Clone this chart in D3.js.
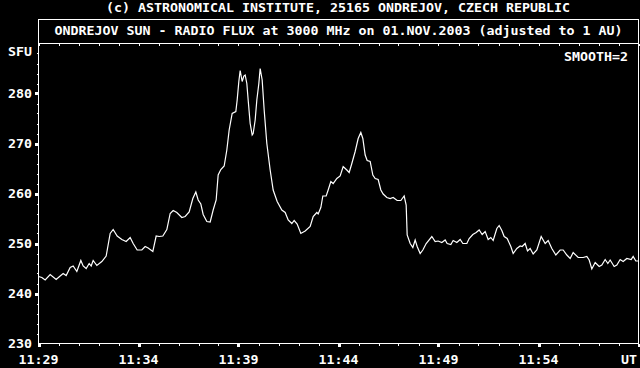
<!DOCTYPE html>
<html>
<head>
<meta charset="utf-8">
<script src="https://cdn.jsdelivr.net/npm/d3@7"></script>
<style>
  html, body { margin: 0; padding: 0; background: #000; }
  svg { display: block; }
  text { font-family: "DejaVu Sans Mono", monospace; font-weight: bold; font-size: 12px; fill: #fff; }
</style>
</head>
<body>
<div id="grafico"></div>
<script>
// seconds after 11:29:00 UT
const segundos = [0, 10, 20, 35, 53, 65, 74, 83, 95, 104, 115, 127, 134, 143, 152, 158, 164, 175, 190, 203,
  215, 224, 236, 250, 263, 275, 284, 296, 310, 320, 329, 343, 353, 362, 373, 385, 395, 404, 415, 430,
  440, 452, 463, 472, 479, 487, 494, 505, 515, 524, 533, 539, 547, 557, 565, 572, 581, 592, 596, 601,
  605, 611, 616, 620, 625, 629, 635, 641, 644, 650, 655, 661, 665, 671, 677, 685, 695, 704, 716, 730,
  740, 749, 760, 767, 776, 787, 800, 815, 824, 835, 839, 847, 853, 863, 869, 877, 884, 895, 905, 914,
  925, 932, 940, 950, 959, 967, 973, 980, 986, 995, 1003, 1010, 1019, 1027, 1034, 1045, 1055, 1064, 1076, 1087,
  1097, 1103, 1106, 1115, 1123, 1130, 1136, 1145, 1153, 1163, 1180, 1190, 1199, 1210, 1220, 1226, 1237, 1244, 1255, 1265,
  1273, 1285, 1292, 1303, 1313, 1322, 1331, 1340, 1349, 1357, 1364, 1375, 1382, 1390, 1397, 1406, 1417, 1424, 1435, 1445,
  1451, 1460, 1467, 1475, 1484, 1495, 1508, 1520, 1529, 1540, 1552, 1565, 1574, 1585, 1595, 1604, 1619, 1634, 1645, 1652,
  1660, 1670, 1682, 1690, 1700, 1708, 1715, 1727, 1735, 1745, 1754, 1765, 1778, 1784, 1792, 1800];

const fluxo = [243.4, 243.2, 242.7, 243.8, 242.8, 243.5, 244.0, 243.6, 245.2, 245.5, 244.4, 246.6, 245.5, 245.0, 246.0, 245.5, 246.6, 245.6, 246.4, 247.5,
  252.0, 252.8, 251.5, 250.8, 250.4, 251.2, 250.0, 248.7, 248.7, 249.4, 249.1, 248.4, 251.5, 251.4, 251.5, 252.8, 256.0, 256.6, 256.2, 255.2,
  255.4, 256.3, 259.0, 260.3, 258.7, 257.9, 255.8, 254.4, 254.3, 256.7, 258.7, 263.7, 264.8, 265.5, 268.7, 272.7, 276.0, 276.4, 278.7, 282.4,
  284.6, 282.4, 283.5, 283.7, 282.0, 278.7, 274.0, 271.7, 272.0, 274.7, 278.7, 282.0, 285.0, 282.7, 276.7, 270.0, 264.7, 260.7, 258.4, 256.7,
  256.2, 254.7, 254.0, 254.6, 253.9, 252.0, 252.5, 253.4, 255.4, 256.2, 255.9, 257.2, 259.5, 259.5, 260.7, 262.4, 262.0, 263.0, 263.5, 265.4,
  264.7, 264.2, 266.0, 268.4, 271.0, 272.2, 271.0, 267.7, 266.6, 266.4, 263.7, 263.0, 262.8, 260.7, 259.9, 259.2, 259.0, 259.2, 258.6, 258.6,
  259.5, 257.7, 251.7, 250.0, 249.2, 250.7, 249.4, 248.0, 248.7, 250.0, 251.4, 250.4, 250.5, 250.2, 250.7, 250.0, 249.8, 250.6, 250.2, 250.8,
  250.0, 250.0, 251.0, 251.8, 252.2, 252.7, 251.8, 252.4, 250.8, 251.2, 250.6, 253.0, 253.6, 252.6, 251.4, 251.0, 249.4, 248.0, 249.0, 249.5,
  249.4, 250.0, 248.5, 249.0, 247.9, 248.7, 251.4, 250.0, 250.6, 249.0, 247.7, 248.7, 248.7, 247.7, 247.0, 248.2, 247.2, 247.2, 247.4, 246.7,
  244.9, 246.2, 245.4, 245.7, 246.8, 246.0, 246.7, 245.4, 245.7, 246.8, 246.4, 247.0, 246.8, 247.4, 246.5, 246.5];

const rotulosY = [230, 240, 250, 260, 270, 280];
const rotulosX = ["11:29", "11:34", "11:39", "11:44", "11:49", "11:54", "UT"];
const titulo1 = "(c) ASTRONOMICAL INSTITUTE, 25165 ONDREJOV, CZECH REPUBLIC";
const titulo2 = "ONDREJOV SUN - RADIO FLUX at 3000 MHz on 01.NOV.2003 (adjusted to 1 AU)";
const CH = 8; // largura de um caractere

var largura = 640, altura = 368;
var svg = d3.select("#grafico").append("svg")
    .attr("width", largura)
    .attr("height", altura)
    .style("background", "#000");

var x = d3.scaleLinear().domain([0, 1800]).range([38.5, 638.5]);
var y = d3.scaleLinear().domain([230, 290]).range([343.5, 43.5]);

function texto(str, x0, yc) {
    return svg.append("text")
        .attr("x", x0)
        .attr("y", yc)
        .attr("dy", "0.36em")
        .attr("textLength", str.length * CH)
        .attr("lengthAdjust", "spacingAndGlyphs")
        .text(str);
}

// moldura
var eixos = svg.append("g").attr("shape-rendering", "crispEdges").attr("stroke", "#fff").attr("fill", "none");
eixos.append("rect").attr("x", 38.5).attr("y", 19.5).attr("width", 600).attr("height", 324);
eixos.append("line").attr("x1", 38.5).attr("x2", 638.5).attr("y1", 43.5).attr("y2", 43.5);

// marcas de minuto (topo e base)
var minutos = d3.range(0, 1801, 60);
eixos.selectAll(".mtopo").data(minutos).enter().append("line")
    .attr("x1", d => Math.round(x(d)) + 0.5).attr("x2", d => Math.round(x(d)) + 0.5)
    .attr("y1", 44).attr("y2", 46);
eixos.selectAll(".mbase").data(minutos.filter(d => d % 300 != 0)).enter().append("line")
    .attr("x1", d => Math.round(x(d)) + 0.5).attr("x2", d => Math.round(x(d)) + 0.5)
    .attr("y1", 344).attr("y2", 346);
svg.selectAll(".mbaseG").data(d3.range(0, 1801, 300)).enter().append("rect")
    .attr("x", d => Math.round(x(d)) - 1).attr("y", 344)
    .attr("width", 3).attr("height", 3).attr("fill", "#fff");

// marcas do eixo y
eixos.selectAll(".ymin").data(d3.range(232, 290, 2).filter(d => d % 10 != 0)).enter().append("line")
    .attr("x1", 37).attr("x2", 38.5)
    .attr("y1", d => Math.round(y(d)) + 0.5).attr("y2", d => Math.round(y(d)) + 0.5);
svg.selectAll(".ymaj").data(rotulosY.slice(1)).enter().append("rect")
    .attr("x", 35).attr("y", d => Math.round(y(d)) - 1)
    .attr("width", 3).attr("height", 3).attr("fill", "#fff");

// rótulos
rotulosY.forEach(v => texto(String(v), 32 - String(v).length * CH, y(v)));
texto("SFU", 8, 52);
rotulosX.forEach((r, i) => {
    var px = x(i * 300);
    if (r == "UT") texto(r, 637 - r.length * CH, 360);
    else texto(r, px - r.length * CH / 2, 360);
});
texto(titulo1, 338 - titulo1.length * CH / 2, 8);
texto(titulo2, 338.5 - titulo2.length * CH / 2, 31);
texto("SMOOTH=2", 628 - 8 * CH, 57);

// curva
var linha = d3.line()
    .x((d, i) => x(segundos[i]))
    .y(d => y(d));

svg.append("path")
    .datum(fluxo)
    .attr("d", linha)
    .attr("fill", "none")
    .attr("stroke", "#fff")
    .attr("stroke-width", 1.2);
</script>
</body>
</html>
